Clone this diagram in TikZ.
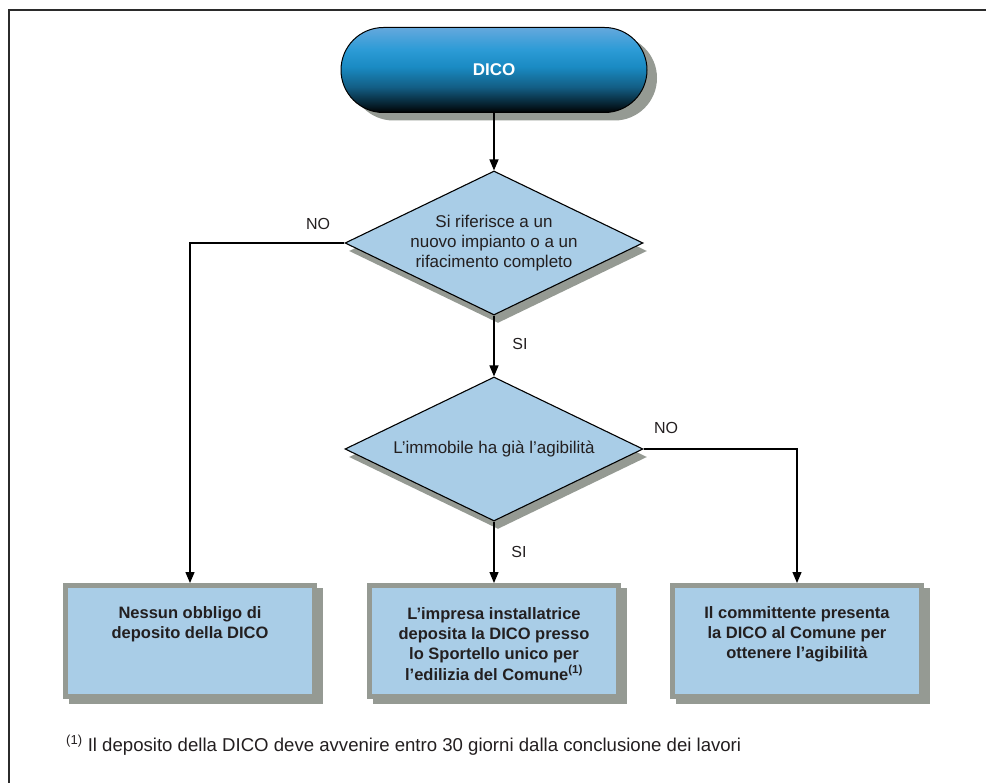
\documentclass[tikz,border=0pt]{standalone}
\usepackage{fontspec}
\setmainfont{Liberation Sans}
\usetikzlibrary{shapes.geometric,shapes.misc,arrows.meta,shadows}

\definecolor{boxblue}{HTML}{A9CDE7}
\definecolor{shadowgray}{HTML}{959A93}
\definecolor{ink}{HTML}{231F20}
\definecolor{frameink}{HTML}{2B2B2B}
\definecolor{dicoA}{HTML}{64A8DD}
\definecolor{dicoB}{HTML}{2C9BD6}
\definecolor{dicoC}{HTML}{1A8BC3}
\definecolor{dicoD}{HTML}{135E85}
\definecolor{dicoE}{HTML}{04161F}

% top-to-bottom blue gradient of the start terminal (pgf vertical shadings run bottom-up)
\pgfdeclareverticalshading{dicoshade}{100bp}{%
  color(0bp)=(black); color(25bp)=(black); color(28bp)=(dicoE);
  color(40bp)=(dicoD); color(52bp)=(dicoC); color(62bp)=(dicoB);
  color(75bp)=(dicoA); color(100bp)=(dicoA)}

\tikzset{
  terminal/.style={rounded rectangle, minimum width=306pt, minimum height=85pt,
    inner sep=0pt, draw=black, line width=1pt, shading=dicoshade,
    text=white, font=\fontsize{17}{20}\selectfont\bfseries,
    drop shadow={shadow xshift=10pt, shadow yshift=-8pt, fill=shadowgray, opacity=1}},
  decision/.style={diamond, aspect=2.07, minimum width=298pt, minimum height=144pt,
    inner sep=0pt, draw=black, line width=1.1pt, fill=boxblue, text=ink,
    align=center, font=\fontsize{17}{20}\selectfont,
    drop shadow={shadow xshift=4pt, shadow yshift=-8pt, fill=shadowgray, opacity=1}},
  outbox/.style={rectangle, minimum width=249pt, minimum height=111pt, inner sep=0pt,
    draw=shadowgray, line width=5pt, fill=boxblue,
    drop shadow={shadow xshift=6pt, shadow yshift=-5pt, fill=shadowgray,
      draw=shadowgray, line width=5pt, opacity=1}},
  boxtext/.style={anchor=north, inner sep=0pt, align=center, text=ink,
    font=\fontsize{16.5}{20.3}\selectfont\bfseries},
  answer/.style={inner sep=0pt, text=ink, font=\fontsize{16}{19}\selectfont},
  arrow/.style={line width=1.3pt, draw=black, -{Triangle[length=11pt,width=9pt]}},
}

\begin{document}
\begin{tikzpicture}[x=1pt, y=-1pt]
  \useasboundingbox (0,0) rectangle (986,783);
  \fill[white] (0,0) rectangle (986,783);

  % page frame, left and top edges
  \draw[frameink, line width=2pt, line join=miter] (8.5,790) -- (8.5,10) -- (995,10);

  % flow elements
  \node[terminal] (dico) at (494,70) {DICO};
  \node[decision] (d1) at (494,243)
    {Si riferisce a un\\nuovo impianto o a un\\rifacimento completo};
  \node[decision] (d2) at (494,449) {L’immobile ha già l’agibilità};

  \node[outbox] (b1) at (190,641) {};
  \node[outbox] (b2) at (494,641) {};
  \node[outbox] (b3) at (797,641) {};

  \node[boxtext] (t1) at (190,606) {Nessun obbligo di\\deposito della DICO};
  \node[boxtext] (t2) at (494,607) {L’impresa installatrice\\deposita la DICO presso\\lo Sportello unico per\\l’edilizia del Comune\textsuperscript{(1)}};
  \node[boxtext] (t3) at (797,606) {Il committente presenta\\la DICO al Comune per\\ottenere l’agibilità};

  % connectors
  \draw[arrow] (dico.south) -- (d1.north);
  \draw[arrow] (d1.south) -- (d2.north);
  \draw[arrow] (d1.west) -| (b1.north);
  \draw[arrow] (d2.south) -- (b2.north);
  \draw[arrow] (d2.east) -| (b3.north);

  % branch labels
  \node[answer] (no1) at (318,224) {NO};
  \node[answer] (si1) at (520,344) {SI};
  \node[answer] (no2) at (666,428) {NO};
  \node[answer] (si2) at (519,552) {SI};

  % footnote
  \node[anchor=base west, inner sep=0pt, text=ink, font=\fontsize{18.6}{22}\selectfont]
    (fn) at (66,751) {\textsuperscript{(1)} Il deposito della DICO deve avvenire entro 30 giorni dalla conclusione dei lavori};
\end{tikzpicture}
\end{document}
